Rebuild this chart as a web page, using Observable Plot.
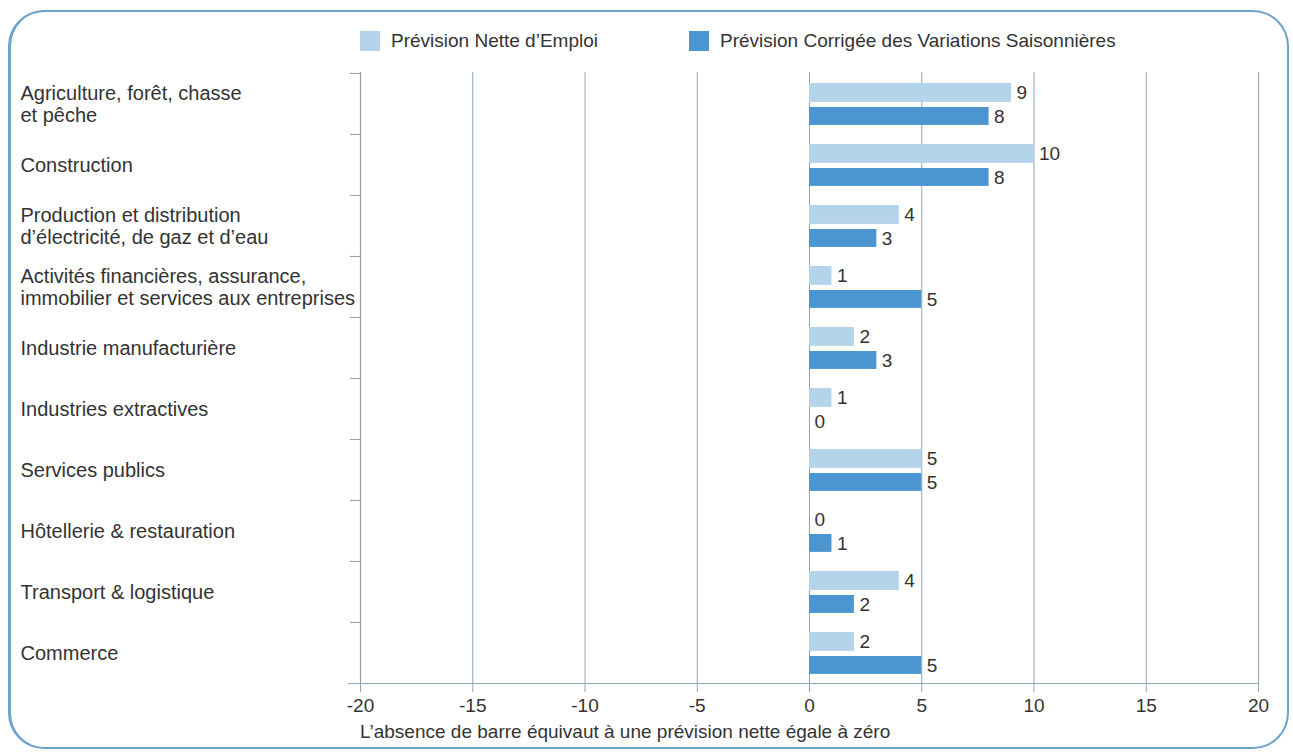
<!DOCTYPE html>
<html>
<head>
<meta charset="utf-8">
<script src="https://cdn.jsdelivr.net/npm/d3@7"></script>
<script src="https://cdn.jsdelivr.net/npm/@observablehq/plot@0.6"></script>
<style>
  html, body { margin: 0; padding: 0; background: #fff; }
  #wrap { position: relative; width: 1293px; height: 753px; overflow: hidden; font-family: "Liberation Sans", Arial, sans-serif; color: #333; }
  #border { position: absolute; left: 8px; top: 10px; width: 1276px; height: 735px; border: 2.5px solid #6aa3cc; border-left-width: 3.5px; border-radius: 36px; box-sizing: content-box; }
  #chart { position: absolute; left: 0; top: 0; }
  .legend { position: absolute; top: 30px; font-size: 19px; display: flex; align-items: center; }
  .sw { width: 20px; height: 20px; margin-right: 11px; display: inline-block; }
  #caption { position: absolute; left: 360px; top: 721px; font-size: 19px; }
</style>
</head>
<body>
<div id="wrap">
  <div id="border"></div>
  <div id="chart"></div>
  <div class="legend" id="leg1" style="left:360px"></div>
  <div class="legend" id="leg2" style="left:689px"></div>
  <div id="caption"></div>
</div>
<script>
const categories = [
  "Agriculture, forêt, chasse\net pêche",
  "Construction",
  "Production et distribution\nd’électricité, de gaz et d’eau",
  "Activités financières, assurance,\nimmobilier et services aux entreprises",
  "Industrie manufacturière",
  "Industries extractives",
  "Services publics",
  "Hôtellerie & restauration",
  "Transport & logistique",
  "Commerce"
];
const netForecast = [9, 10, 4, 1, 2, 1, 5, 0, 4, 2];
const adjustedForecast = [8, 8, 3, 5, 3, 0, 5, 1, 2, 5];
const seriesNames = ["Prévision Nette d’Emploi", "Prévision Corrigée des Variations Saisonnières"];
const xTicks = [-20, -15, -10, -5, 0, 5, 10, 15, 20];
const captionText = "L’absence de barre équivaut à une prévision nette égale à zéro";

const lightColor = "#b4d4ec";
const darkColor = "#4b95d1";
const gridColor = "#8ea7b9";
const fs = 19;

const netData = categories.map((c, i) => ({cat: c, value: netForecast[i]}));
const adjData = categories.map((c, i) => ({cat: c, value: adjustedForecast[i]}));

const W = 1293, H = 753, mT = 72, mB = 70, mL = 360, mR = 35;
const step = (H - mT - mB) / categories.length;

const chart = Plot.plot({
  width: W,
  height: H,
  marginTop: mT,
  marginBottom: mB,
  marginLeft: mL,
  marginRight: mR,
  style: {fontFamily: "'Liberation Sans', Arial, sans-serif", fontSize: fs + "px", color: "#333", background: "transparent"},
  x: {domain: [-20, 20], ticks: xTicks},
  y: {domain: categories, padding: 0},
  marks: [
    Plot.gridX(xTicks, {stroke: gridColor, strokeOpacity: 1, strokeWidth: 1}),
    Plot.frame({anchor: "bottom", stroke: gridColor, strokeWidth: 1.2}),
    Plot.ruleX([-20], {stroke: "#9a9a9a", strokeWidth: 1.2}),
    Plot.axisX(xTicks, {tickSize: 9, tickPadding: 6, stroke: gridColor, tickFormat: d => d, label: null, fontSize: fs, fill: "#333"}),
    Plot.axisY({tickSize: 10, tickFormat: () => "", dy: -step / 2, stroke: "#9a9a9a", label: null}),
    Plot.axisY(categories.slice(-1), {tickSize: 12, tickFormat: () => "", dy: step / 2, stroke: gridColor, label: null}),
    Plot.axisY({tickSize: 0, tickPadding: 0, textAnchor: "start", dx: -(mL - 20), label: null, lineHeight: 1.12, fontSize: 20, fill: "#333"}),
    Plot.barX(netData, {x: "value", y: "cat", fill: lightColor, insetTop: 10, insetBottom: step - 29}),
    Plot.barX(adjData, {x: "value", y: "cat", fill: darkColor, insetTop: 34, insetBottom: step - 52}),
    Plot.text(netData, {x: "value", y: "cat", text: d => String(d.value), textAnchor: "start", dx: 5, dy: 19.5 - step / 2, fontSize: fs, fill: "#333"}),
    Plot.text(adjData, {x: "value", y: "cat", text: d => String(d.value), textAnchor: "start", dx: 5, dy: 43.5 - step / 2, fontSize: fs, fill: "#333"})
  ]
});
document.getElementById("chart").appendChild(chart);

function legendItem(el, color, label) {
  const sw = document.createElement("span");
  sw.className = "sw";
  sw.style.background = color;
  el.appendChild(sw);
  el.appendChild(document.createTextNode(label));
}
legendItem(document.getElementById("leg1"), lightColor, seriesNames[0]);
legendItem(document.getElementById("leg2"), darkColor, seriesNames[1]);
document.getElementById("caption").textContent = captionText;
</script>
</body>
</html>
